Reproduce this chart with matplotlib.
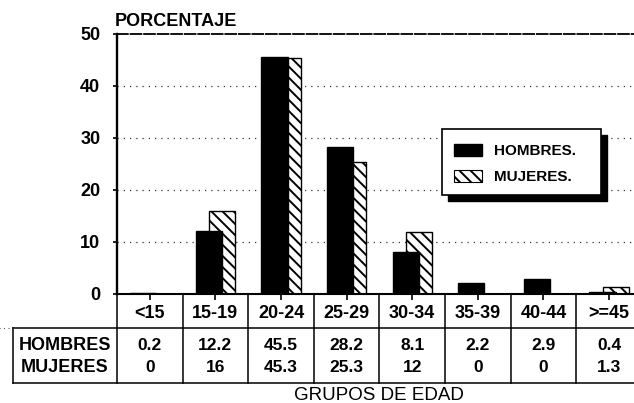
"""Distribucion porcentual por grupos de edad, hombres y mujeres."""

import matplotlib
matplotlib.use("Agg")
import matplotlib.pyplot as plt
from matplotlib.patches import Rectangle
from matplotlib.transforms import blended_transform_factory

grupos = ["<15", "15-19", "20-24", "25-29", "30-34", "35-39", "40-44", ">=45"]
hombres = [0.2, 12.2, 45.5, 28.2, 8.1, 2.2, 2.9, 0.4]
mujeres = [0, 16, 45.3, 25.3, 12, 0, 0, 1.3]
tabla_h = ["0.2", "12.2", "45.5", "28.2", "8.1", "2.2", "2.9", "0.4"]
tabla_m = ["0", "16", "45.3", "25.3", "12", "0", "0", "1.3"]
yticks = [0, 10, 20, 30, 40, 50]

plt.rcParams["font.family"] = ["Liberation Sans", "DejaVu Sans"]
plt.rcParams["font.weight"] = "bold"
plt.rcParams["hatch.linewidth"] = 1.4

W, H = 634, 403
fig = plt.figure(figsize=(W / 100, H / 100), dpi=100)


def fx(x):
    return x / W


def fy(y):
    return 1 - y / H


# --- ejes (en pixeles de la imagen original) ---
ax_left, ax_right, ax_top, ax_bot = 117, 634, 34, 294
ax = fig.add_axes([fx(ax_left), fy(ax_bot), (ax_right - ax_left) / W, (ax_bot - ax_top) / H])
x0, x1 = -0.5, 7.38
ax.set_xlim(x0, x1)
ax.set_ylim(0, 50)
colw = (ax_right - ax_left) / (x1 - x0)

pos = list(range(len(grupos)))
ax.bar([p + 0.1 for p in pos], mujeres, width=0.4, color="white", edgecolor="black",
       hatch="\\\\\\", linewidth=1.0, zorder=2)
ax.bar([p - 0.1 for p in pos], hombres, width=0.4, color="black", edgecolor="black",
       linewidth=1.0, zorder=3)

# --- rejilla punteada ---
for v in yticks[1:-1]:
    ax.axhline(v, color="#333333", lw=0.9, ls=(0, (1, 4)), zorder=1)

ax.spines["right"].set_visible(False)
ax.spines["left"].set_linewidth(1.7)
ax.spines["top"].set_linestyle((0, (6, 1.5)))
ax.spines["top"].set_linewidth(1.3)
ax.spines["bottom"].set_linestyle((0, (8, 1)))
ax.spines["bottom"].set_linewidth(1.5)

ax.set_yticks(yticks)
ax.set_yticklabels([str(v) for v in yticks], fontsize=13, fontweight="bold")
ax.tick_params(axis="y", length=3, width=1.2, pad=9)
ax.set_xticks(pos)
ax.set_xticklabels([])
ax.tick_params(axis="x", length=4, width=1.2, direction="out")

fig.text(fx(115), fy(21), "PORCENTAJE", fontsize=13, fontweight="bold", ha="left", va="center")

# --- tabla inferior ---
tr = blended_transform_factory(ax.transData, ax.transAxes)


def ay(py):
    return (ax_bot - py) / (ax_bot - ax_top)


lab_left = x0 - (ax_left - 13) / colw
y_head, y_mid, y_end = ay(ax_bot), ay(328), ay(383)
lw_t = 1.1
for i in range(len(grupos)):
    xb = i - 0.5
    ax.plot([xb, xb], [y_head, y_end], color="black", lw=lw_t, transform=tr, clip_on=False)
    ax.text(i, ay(313), grupos[i], transform=tr, ha="center", va="center", fontsize=13)
    ax.text(i, ay(346), tabla_h[i], transform=tr, ha="center", va="center", fontsize=12.5)
    ax.text(i, ay(368), tabla_m[i], transform=tr, ha="center", va="center", fontsize=12.5)
ax.plot([lab_left, x1 + 1], [y_mid, y_mid], color="black", lw=lw_t, transform=tr, clip_on=False)
ax.plot([lab_left, x1 + 1], [y_end, y_end], color="black", lw=lw_t, transform=tr, clip_on=False)
ax.plot([lab_left, lab_left], [y_mid, y_end], color="black", lw=lw_t, transform=tr, clip_on=False)
ax.plot([x0 - 1.9, lab_left], [y_mid, y_mid], color="#555555", lw=0.8, ls=(0, (1, 3)),
        transform=tr, clip_on=False)
lab_c = (lab_left + x0) / 2
ax.text(lab_c, ay(346), "HOMBRES", transform=tr, ha="center", va="center", fontsize=13)
ax.text(lab_c, ay(368), "MUJERES", transform=tr, ha="center", va="center", fontsize=13)

ax.text((x0 + 7.5) / 2, ay(395), "GRUPOS DE EDAD", transform=tr, ha="center", va="center",
        fontsize=13.5, fontweight="normal")

# --- leyenda con sombra ---
lx0, lx1, ly0, ly1 = 442, 601, 129, 195
fig.patches.append(Rectangle((fx(lx0 + 6), fy(ly1 + 6)), (lx1 - lx0) / W, (ly1 - ly0) / H,
                             transform=fig.transFigure, facecolor="black", edgecolor="black",
                             zorder=5))
fig.patches.append(Rectangle((fx(lx0), fy(ly1)), (lx1 - lx0) / W, (ly1 - ly0) / H,
                             transform=fig.transFigure, facecolor="white", edgecolor="black",
                             lw=1.2, zorder=6))
fig.patches.append(Rectangle((fx(454), fy(156)), 28 / W, 12 / H, transform=fig.transFigure,
                             facecolor="black", edgecolor="black", zorder=7))
fig.patches.append(Rectangle((fx(454), fy(182)), 28 / W, 12 / H, transform=fig.transFigure,
                             facecolor="white", edgecolor="black", hatch="\\\\\\", lw=0.8,
                             zorder=7))
fig.text(fx(494), fy(151), "HOMBRES.", fontsize=11, fontweight="bold", va="center", zorder=8)
fig.text(fx(494), fy(177), "MUJERES.", fontsize=11, fontweight="bold", va="center", zorder=8)

fig.savefig("out.png", dpi=100)
